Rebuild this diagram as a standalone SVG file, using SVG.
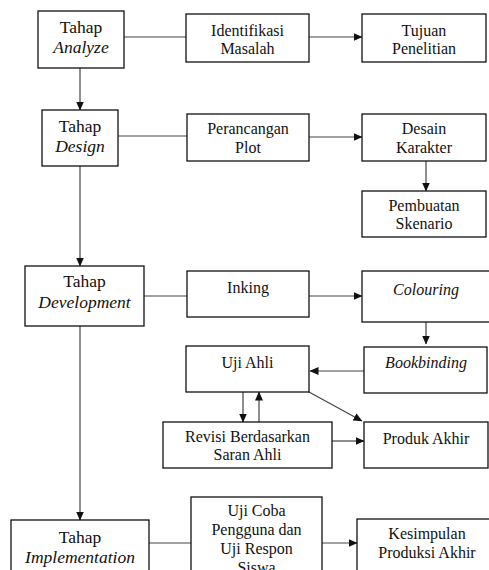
<svg xmlns="http://www.w3.org/2000/svg" width="489" height="570" viewBox="0 0 489 570">
<style>
.box{fill:#fff;stroke:#111;stroke-width:1.3}
.t{font-family:'Liberation Serif','Times New Roman',serif;font-size:16px;fill:#111;text-anchor:middle}
.h{font-size:17.5px}
.i{font-style:italic}
.c{fill:none;stroke:#444;stroke-width:1.2}
</style>
<defs>
<marker id="ah" markerUnits="userSpaceOnUse" markerWidth="9" markerHeight="8" refX="8.5" refY="4" orient="auto">
<path d="M0,0 L9,4 L0,8 z" fill="#111"/>
</marker>
</defs>
<g id="connectors">
<line class="c" x1="124" y1="37" x2="186" y2="37"/>
<line class="c" x1="309" y1="37" x2="362" y2="37" marker-end="url(#ah)"/>
<line class="c" x1="80" y1="68" x2="80" y2="110" marker-end="url(#ah)"/>
<line class="c" x1="118" y1="136" x2="187" y2="136"/>
<line class="c" x1="309" y1="137" x2="362" y2="137" marker-end="url(#ah)"/>
<line class="c" x1="426" y1="161" x2="426" y2="191" marker-end="url(#ah)"/>
<line class="c" x1="80" y1="166" x2="80" y2="266" marker-end="url(#ah)"/>
<line class="c" x1="144" y1="296" x2="187" y2="296"/>
<line class="c" x1="309" y1="296" x2="362" y2="296" marker-end="url(#ah)"/>
<line class="c" x1="426" y1="322" x2="426" y2="344" marker-end="url(#ah)"/>
<line class="c" x1="364" y1="371" x2="310" y2="371" marker-end="url(#ah)"/>
<line class="c" x1="243" y1="392" x2="243" y2="422" marker-end="url(#ah)"/>
<line class="c" x1="259" y1="422" x2="259" y2="392" marker-end="url(#ah)"/>
<line class="c" x1="309" y1="392" x2="362" y2="421" marker-end="url(#ah)"/>
<line class="c" x1="332" y1="441" x2="364" y2="441" marker-end="url(#ah)"/>
<line class="c" x1="80" y1="326" x2="80" y2="520" marker-end="url(#ah)"/>
<line class="c" x1="149" y1="543" x2="191" y2="543"/>
<line class="c" x1="322" y1="543" x2="357" y2="543" marker-end="url(#ah)"/>
</g>
<g id="analyze">
<rect class="box" x="38" y="11" width="86" height="57"/>
<text class="t h" x="81" y="33">Tahap</text>
<text class="t h i" x="81" y="53">Analyze</text>
</g>
<g id="identifikasi">
<rect class="box" x="186" y="14" width="123" height="48"/>
<text class="t" x="247.5" y="36">Identifikasi</text>
<text class="t" x="247.5" y="54">Masalah</text>
</g>
<g id="tujuan">
<rect class="box" x="362" y="14" width="124" height="48"/>
<text class="t" x="424" y="36">Tujuan</text>
<text class="t" x="424" y="54">Penelitian</text>
</g>
<g id="design">
<rect class="box" x="42" y="110" width="76" height="56"/>
<text class="t h" x="80" y="132">Tahap</text>
<text class="t h i" x="80" y="152">Design</text>
</g>
<g id="perancangan">
<rect class="box" x="187" y="114" width="122" height="47"/>
<text class="t" x="248" y="134">Perancangan</text>
<text class="t" x="248" y="153">Plot</text>
</g>
<g id="desain">
<rect class="box" x="362" y="114" width="124" height="47"/>
<text class="t" x="424" y="134">Desain</text>
<text class="t" x="424" y="153">Karakter</text>
</g>
<g id="pembuatan">
<rect class="box" x="362" y="191" width="124" height="46"/>
<text class="t" x="424" y="211">Pembuatan</text>
<text class="t" x="424" y="229">Skenario</text>
</g>
<g id="development">
<rect class="box" x="25" y="266" width="119" height="60"/>
<text class="t h" x="84.5" y="287">Tahap</text>
<text class="t h i" x="84.5" y="308">Development</text>
</g>
<g id="inking">
<rect class="box" x="187" y="271" width="122" height="46"/>
<text class="t" x="248" y="293">Inking</text>
</g>
<g id="colouring">
<rect class="box" x="362" y="271" width="132" height="51"/>
<text class="t i" x="426" y="295">Colouring</text>
</g>
<g id="bookbinding">
<rect class="box" x="364" y="347" width="123" height="46"/>
<text class="t i" x="426" y="368">Bookbinding</text>
</g>
<g id="ujiahli">
<rect class="box" x="186" y="346" width="123" height="46"/>
<text class="t" x="247.5" y="368">Uji Ahli</text>
</g>
<g id="revisi">
<rect class="box" x="163" y="422" width="169" height="46"/>
<text class="t" x="247.5" y="442">Revisi Berdasarkan</text>
<text class="t" x="247.5" y="460">Saran Ahli</text>
</g>
<g id="produk">
<rect class="box" x="364" y="422" width="124" height="46"/>
<text class="t" x="426" y="444">Produk Akhir</text>
</g>
<g id="implementation">
<rect class="box" x="11" y="520" width="138" height="60"/>
<text class="t h" x="80" y="543">Tahap</text>
<text class="t h i" x="80" y="563">Implementation</text>
</g>
<g id="ujicoba">
<rect class="box" x="191" y="497" width="131" height="85"/>
<text class="t" x="256.5" y="516">Uji Coba</text>
<text class="t" x="256.5" y="535">Pengguna dan</text>
<text class="t" x="256.5" y="554">Uji Respon</text>
<text class="t" x="256.5" y="573">Siswa</text>
</g>
<g id="kesimpulan">
<rect class="box" x="357" y="519" width="140" height="60"/>
<text class="t" x="427" y="539">Kesimpulan</text>
<text class="t" x="427" y="558">Produksi Akhir</text>
</g>
</svg>
